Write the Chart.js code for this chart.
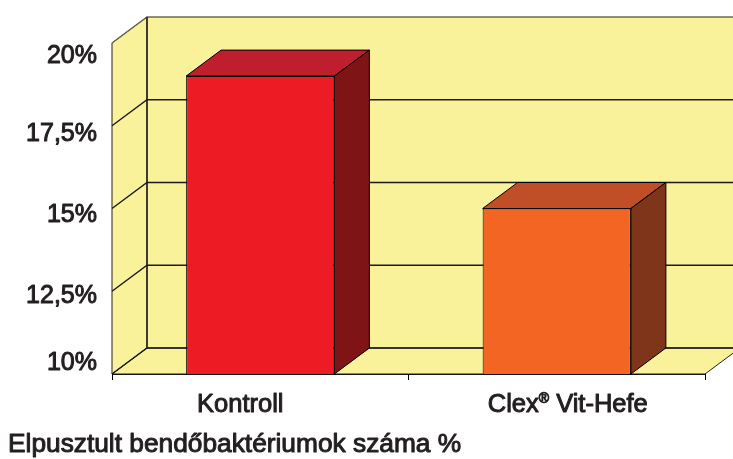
<!DOCTYPE html>
<html>
<head>
<meta charset="utf-8">
<script src="https://cdn.jsdelivr.net/npm/chart.js@4/dist/chart.umd.min.js"></script>
<style>
  body { margin: 0; background: #fff; }
</style>
</head>
<body>
<canvas id="chart" width="733" height="459"></canvas>
<script>
const categories = ["Kontroll", "Clex® Vit-Hefe"];
const values = [19.0, 15.0];
const yTicks = [10, 12.5, 15, 17.5, 20];
const yTickLabels = ["10%", "12,5%", "15%", "17,5%", "20%"];
const axisTitle = "Elpusztult bendőbaktériumok száma %";

const frontColors = ["#ED1C24", "#F26522"];
const topColors = ["#BE1E2D", "#C04F27"];
const sideColors = ["#7E1416", "#7E3519"];
const wallColor = "#FAF29B";
const textColor = "#231F20";

const DX = 35; // depth offset of the 3d box
const DY = 26;
const FONT = "'Liberation Sans', Arial, sans-serif";
// small nudges so labels sit where the original put them
const yLabelShift = [-11, 5, 7, 8, 13];
const xLabelShift = [-20, 11];

function poly(ctx, pts, fill) {
    ctx.beginPath();
    ctx.moveTo(pts[0][0], pts[0][1]);
    for (let i = 1; i < pts.length; i++) ctx.lineTo(pts[i][0], pts[i][1]);
    ctx.closePath();
    if (fill) {
        ctx.fillStyle = fill;
        ctx.fill();
    }
    ctx.stroke();
}

function heavyText(ctx, text, x, y) {
    ctx.fillText(text, x, y);
    ctx.strokeText(text, x, y);
}

const box3d = {
    id: "box3d",
    beforeDatasetsDraw(chart) {
        const { ctx, chartArea: a, scales: { y } } = chart;
        const w = a.right - a.left;
        ctx.save();
        ctx.lineWidth = 1;
        ctx.strokeStyle = "#222";
        // back wall, left wall, floor
        ctx.fillStyle = wallColor;
        ctx.fillRect(a.left + DX, a.top - DY, w, a.bottom - a.top);
        poly(ctx, [[a.left, a.top], [a.left + DX, a.top - DY], [a.left + DX, a.bottom - DY], [a.left, a.bottom]], wallColor);
        poly(ctx, [[a.left, a.bottom], [a.left + DX, a.bottom - DY], [a.right + DX, a.bottom - DY], [a.right, a.bottom]], wallColor);
        // wall grid lines
        ctx.lineWidth = 1.4;
        yTicks.forEach(v => {
            const py = y.getPixelForValue(v);
            ctx.strokeStyle = v === yTicks[yTicks.length - 1] ? "#6b6a55" : "#1a1a1a";
            ctx.beginPath();
            ctx.moveTo(a.left, py);
            ctx.lineTo(a.left + DX, py - DY);
            ctx.lineTo(a.right + DX, py - DY);
            ctx.stroke();
        });
        ctx.strokeStyle = "#1a1a1a";
        ctx.beginPath();
        ctx.moveTo(a.left + DX, a.top - DY);
        ctx.lineTo(a.left + DX, a.bottom - DY);
        ctx.stroke();
        ctx.restore();
    },
    afterDatasetsDraw(chart) {
        const { ctx, scales: { y } } = chart;
        const base = y.getPixelForValue(yTicks[0]);
        ctx.save();
        ctx.lineWidth = 1;
        ctx.strokeStyle = "#000";
        chart.getDatasetMeta(0).data.forEach((bar, i) => {
            const l = bar.x - bar.width / 2;
            const r = bar.x + bar.width / 2;
            poly(ctx, [[l, bar.y], [l + DX, bar.y - DY], [r + DX, bar.y - DY], [r, bar.y]], topColors[i]);
            poly(ctx, [[r, bar.y], [r + DX, bar.y - DY], [r + DX, base - DY], [r, base]], sideColors[i]);
        });
        ctx.restore();
    },
    afterDraw(chart) {
        const { ctx, scales: { x, y } } = chart;
        ctx.save();
        ctx.fillStyle = textColor;
        ctx.strokeStyle = textColor;
        ctx.lineWidth = 1;
        ctx.lineJoin = "round";

        // y labels
        ctx.font = `25px ${FONT}`;
        ctx.textAlign = "right";
        ctx.textBaseline = "middle";
        yTicks.forEach((v, i) => {
            heavyText(ctx, yTickLabels[i], 97, y.getPixelForValue(v) + yLabelShift[i]);
        });

        // category labels, with a small raised ®
        ctx.textAlign = "left";
        ctx.textBaseline = "alphabetic";
        categories.forEach((label, i) => {
            const parts = label.split(/(®)/).filter(p => p);
            const sizes = parts.map(p => (p === "®" ? 14 : 25.5));
            const widths = parts.map((p, k) => {
                ctx.font = `${sizes[k]}px ${FONT}`;
                return ctx.measureText(p).width;
            });
            let cx = x.getPixelForTick(i) + xLabelShift[i] - widths.reduce((s, v) => s + v, 0) / 2;
            parts.forEach((p, k) => {
                ctx.font = `${sizes[k]}px ${FONT}`;
                heavyText(ctx, p, cx, p === "®" ? 403 : 412);
                cx += widths[k];
            });
        });

        // axis title
        ctx.font = `26.3px ${FONT}`;
        heavyText(ctx, axisTitle, 8, 452);
        ctx.restore();
    }
};

new Chart(document.getElementById("chart"), {
    type: "bar",
    data: {
        labels: categories,
        datasets: [{
            data: values,
            backgroundColor: frontColors,
            borderColor: "#000",
            borderWidth: 1,
            borderSkipped: false,
            barPercentage: 0.5,
            categoryPercentage: 1
        }]
    },
    options: {
        responsive: false,
        animation: false,
        layout: { padding: { left: 0, top: 43, right: 28, bottom: 0 } },
        plugins: {
            legend: { display: false },
            tooltip: { enabled: false },
            title: { display: false }
        },
        scales: {
            x: {
                afterFit: s => { s.height = 85; },
                grid: { offset: true, drawOnChartArea: false, tickLength: 6, color: "#000" },
                border: { display: true, color: "#000", width: 1 },
                ticks: { display: false }
            },
            y: {
                min: 10,
                max: 20,
                afterFit: s => { s.width = 112; },
                afterBuildTicks: s => { s.ticks = yTicks.map(v => ({ value: v })); },
                grid: { display: false, drawTicks: false },
                border: { display: true, color: "#000", width: 1 },
                ticks: { display: false }
            }
        }
    },
    plugins: [box3d]
});
</script>
</body>
</html>
